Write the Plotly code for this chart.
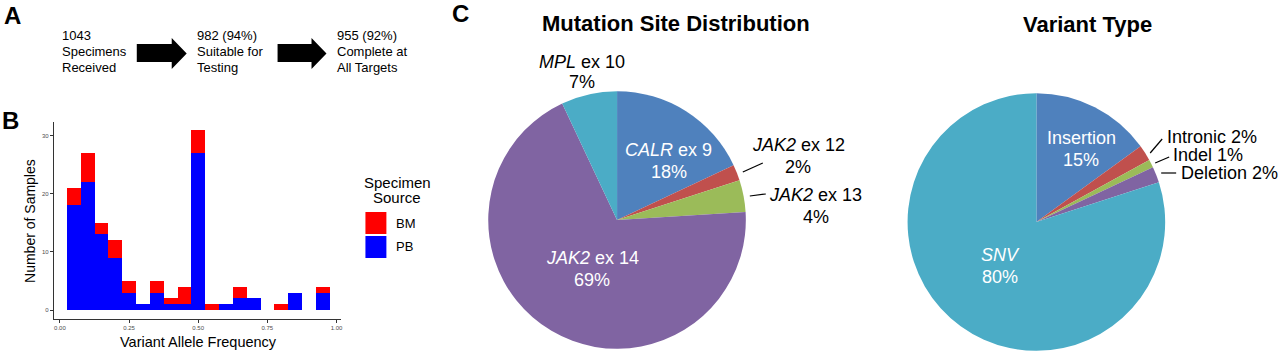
import plotly.graph_objects as go

# ---------------- data ----------------
vaf_centers = [0.05, 0.10, 0.15, 0.20, 0.25, 0.30, 0.35, 0.40, 0.45, 0.50,
               0.55, 0.60, 0.65, 0.70, 0.75, 0.80, 0.85, 0.90, 0.95]
pb_counts = [18, 22, 13, 9, 3, 1, 3, 1, 1, 27, 0, 1, 2, 2, 0, 0, 3, 0, 3]
bm_counts = [3, 5, 2, 3, 2, 0, 2, 1, 3, 4, 1, 0, 2, 0, 0, 1, 0, 0, 1]
x_ticks = [0.0, 0.25, 0.5, 0.75, 1.0]
x_ticklabels = ["0.00", "0.25", "0.50", "0.75", "1.00"]
y_ticks = [0, 10, 20, 30]

site_labels = ["CALR ex 9", "JAK2 ex 12", "JAK2 ex 13", "JAK2 ex 14", "MPL ex 10"]
site_values = [18, 2, 4, 69, 7]
type_labels = ["Insertion", "Intronic", "Indel", "Deletion", "SNV"]
type_values = [15, 2, 1, 2, 80]
pie_colors = ["#4F81BD", "#C0504D", "#9BBB59", "#8064A2", "#4BACC6"]

flow_steps = [["1043", "Specimens", "Received"],
              ["982 (94%)", "Suitable for", "Testing"],
              ["955 (92%)", "Complete at", "All Targets"]]

W, H = 1280, 354
FONT = "Liberation Sans, Arial, sans-serif"


def px(x):
    return x / W


def py(y):
    return 1 - y / H


fig = go.Figure()

# ---------------- histogram (panel B) ----------------
fig.add_trace(go.Bar(x=vaf_centers, y=pb_counts, width=0.05, name="PB",
                     marker=dict(color="#0000FF", line=dict(width=0)),
                     showlegend=False, xaxis="x", yaxis="y"))
fig.add_trace(go.Bar(x=vaf_centers, y=bm_counts, width=0.05, name="BM",
                     marker=dict(color="#FF0000", line=dict(width=0)),
                     showlegend=False, xaxis="x", yaxis="y"))

# ---------------- pies (panel C) ----------------
fig.add_trace(go.Pie(labels=site_labels, values=site_values, sort=False,
                     direction="clockwise", rotation=0, textinfo="none",
                     marker=dict(colors=pie_colors, line=dict(width=0)),
                     domain=dict(x=[px(489), px(747)], y=[py(349), py(91)]),
                     showlegend=False, hoverinfo="label+percent"))
fig.add_trace(go.Pie(labels=type_labels, values=type_values, sort=False,
                     direction="clockwise", rotation=0, textinfo="none",
                     marker=dict(colors=pie_colors, line=dict(width=0)),
                     domain=dict(x=[px(909), px(1167)], y=[py(351), py(93)]),
                     showlegend=False, hoverinfo="label+percent"))

annotations = []
shapes = []


def txt(x, y, s, size=13, color="black", xanchor="center", bold=False, angle=0):
    if bold:
        s = "<b>" + s + "</b>"
    annotations.append(dict(x=px(x), y=py(y), xref="paper", yref="paper", text=s,
                            showarrow=False, xanchor=xanchor, yanchor="middle",
                            textangle=angle,
                            font=dict(family=FONT, size=size, color=color)))


def line(x0, y0, x1, y1, w=1.2):
    shapes.append(dict(type="line", xref="paper", yref="paper",
                       x0=px(x0), y0=py(y0), x1=px(x1), y1=py(y1),
                       line=dict(color="black", width=w)))


def arrow(xs, xb, xt, yb0, yb1, yh0, yh1):
    ym = (yh0 + yh1) / 2
    pts = [(xs, yb0), (xb, yb0), (xb, yh0), (xt, ym), (xb, yh1), (xb, yb1), (xs, yb1)]
    path = "M " + " L ".join(f"{px(a):.5f},{py(b):.5f}" for a, b in pts) + " Z"
    shapes.append(dict(type="path", xref="paper", yref="paper", path=path,
                       fillcolor="black", line=dict(width=0)))


# panel letters
txt(2, 15, "A", size=24, xanchor="left", bold=True)
txt(0, 120, "B", size=24, xanchor="left", bold=True)
txt(451, 14, "C", size=24, xanchor="left", bold=True)

# panel A flow
for xpos, lines in zip([60, 195, 336], flow_steps):
    for yy, s in zip([35, 51.5, 67.5], lines):
        txt(xpos, yy, s, size=13, xanchor="left")
arrow(137, 172, 187, 44, 62, 38, 69)
arrow(278, 312, 327, 44, 62, 38, 69)

# panel B axis titles
txt(30, 221, "Number of Samples", size=14, angle=-90)
txt(199, 342, "Variant Allele Frequency", size=14.5)

# panel B legend
txt(398, 182, "Specimen", size=15)
txt(398, 198, "Source", size=15)
for (y0, y1), col, lab in zip([(212, 234), (236, 258)], ["#FF0000", "#0000FF"], ["BM", "PB"]):
    shapes.append(dict(type="rect", xref="paper", yref="paper",
                       x0=px(366), x1=px(387), y0=py(y1), y1=py(y0),
                       fillcolor=col, line=dict(width=0)))
    txt(395, (y0 + y1) / 2, lab, size=13, xanchor="left")

# pie titles
txt(677, 23, "Mutation Site Distribution", size=22, bold=True)
txt(1089, 24, "Variant Type", size=22, bold=True)

# pie 1 labels
txt(583, 62, "<i>MPL</i> ex 10", size=18)
txt(583, 82, "7%", size=18)
txt(670, 150, "<i>CALR</i> ex 9", size=18, color="white")
txt(670, 172, "18%", size=18, color="white")
txt(593, 258, "<i>JAK2</i> ex 14", size=18, color="white")
txt(593, 280, "69%", size=18, color="white")
txt(800, 145, "<i>JAK2</i> ex 12", size=18)
txt(799, 167, "2%", size=18)
txt(817, 195, "<i>JAK2</i> ex 13", size=18)
txt(817, 217, "4%", size=18)
line(744, 172, 764, 163)
line(751, 196, 767, 194)

# pie 2 labels
txt(1083, 138, "Insertion", size=18, color="white")
txt(1083, 160, "15%", size=18, color="white")
txt(1002, 255, "<i>SNV</i>", size=18, color="white")
txt(1002, 277, "80%", size=18, color="white")
txt(1167, 137, "Intronic 2%", size=18, xanchor="left")
txt(1173, 155, "Indel 1%", size=18, xanchor="left")
txt(1181, 173, "Deletion 2%", size=18, xanchor="left")
line(1152, 153, 1164, 139)
line(1157, 163, 1171, 157)
line(1163, 173, 1178, 173)

axis_common = dict(showline=True, linecolor="#333333", linewidth=1,
                   ticks="outside", ticklen=3, tickcolor="#333333", tickwidth=1,
                   showgrid=False, zeroline=False,
                   tickfont=dict(family=FONT, size=6, color="#4D4D4D"))

fig.update_layout(
    width=W, height=H,
    margin=dict(l=0, r=0, t=0, b=0),
    paper_bgcolor="white", plot_bgcolor="white",
    barmode="stack", bargap=0,
    font=dict(family=FONT),
    xaxis=dict(domain=[px(54), px(342)], range=[-0.0217, 1.018],
               tickvals=x_ticks, ticktext=x_ticklabels, anchor="y", **axis_common),
    yaxis=dict(domain=[py(319), py(122)], range=[-1.55, 32.36],
               tickvals=y_ticks, anchor="x", **axis_common),
    annotations=annotations,
    shapes=shapes,
)

fig.write_html("out.html")
